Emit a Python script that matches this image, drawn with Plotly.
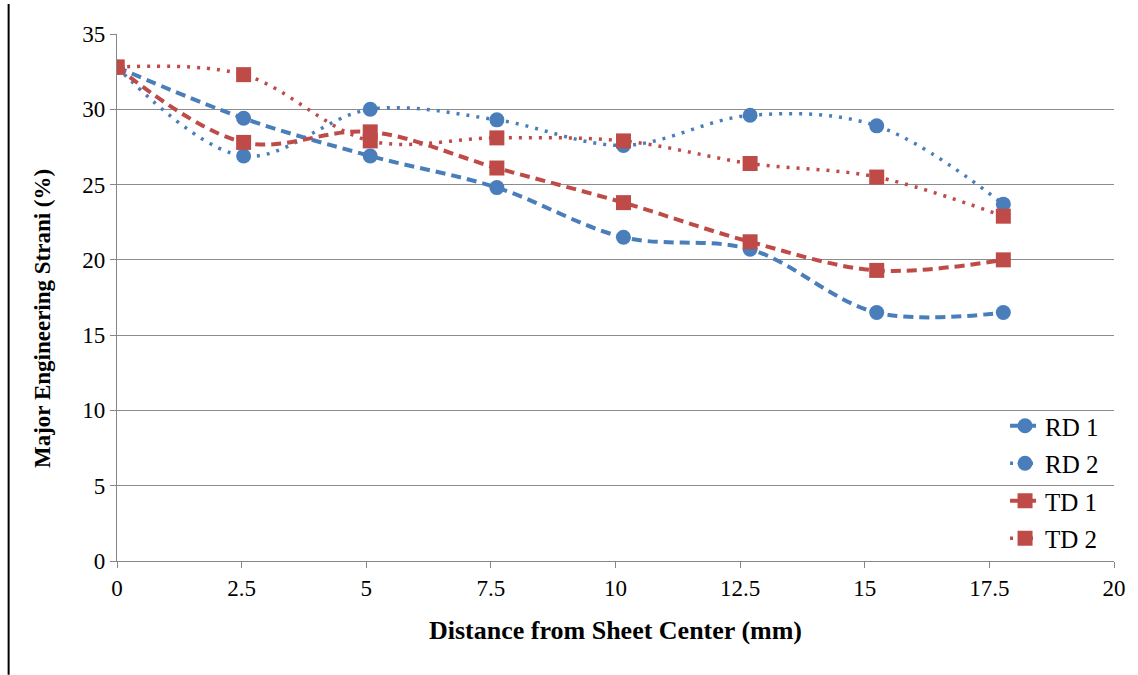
import plotly.graph_objects as go

# Measurement positions along the sheet (mm)
distance_mm = [0, 2.54, 5.08, 7.62, 10.16, 12.7, 15.24, 17.78]

# Major engineering strain (%) per specimen
rd1 = [32.8, 29.4, 26.9, 24.8, 21.5, 20.7, 16.5, 16.5]
rd2 = [32.8, 26.9, 30.0, 29.3, 27.6, 29.6, 28.9, 23.7]
td1 = [32.8, 27.8, 28.5, 26.1, 23.8, 21.2, 19.3, 20.0]
td2 = [32.8, 32.3, 27.9, 28.1, 27.9, 26.4, 25.5, 22.9]

x_ticks = [0, 2.5, 5, 7.5, 10, 12.5, 15, 17.5, 20]
y_ticks = [0, 5, 10, 15, 20, 25, 30, 35]

BLUE = "#4A7EBB"
RED = "#BE4B48"
FONT = "Liberation Serif, Times New Roman, serif"

series = [
    ("RD 1", rd1, BLUE, "circle", "10px,6px", 4),
    ("RD 2", rd2, BLUE, "circle", "3px,7px", 3.5),
    ("TD 1", td1, RED, "square", "10px,6px", 4),
    ("TD 2", td2, RED, "square", "3px,7px", 3.5),
]

fig = go.Figure()
for i, (name, vals, color, symbol, dash, lw) in enumerate(series):
    fig.add_trace(go.Scatter(
        x=distance_mm, y=vals, name=name, mode="lines+markers",
        line=dict(color=color, width=lw, dash=dash, shape="spline", smoothing=1),
        marker=dict(color=color, symbol=symbol, size=15),
        legendgroup=f"g{i}",
    ))

fig.update_layout(
    width=1138, height=675,
    margin=dict(l=117, r=18, t=34, b=114),
    paper_bgcolor="white", plot_bgcolor="white",
    font=dict(family=FONT, size=23, color="#000000"),
    showlegend=True,
    legend=dict(
        x=0.99, xanchor="right", y=0.0, yanchor="bottom",
        bgcolor="rgba(0,0,0,0)", font=dict(family=FONT, size=25),
        traceorder="grouped", tracegroupgap=2,
    ),
    xaxis=dict(
        range=[0, 20], tickvals=x_ticks, ticktext=[f"{v:g}" for v in x_ticks],
        showgrid=False, zeroline=False,
        showline=True, linecolor="#868686", linewidth=1.2,
        ticks="outside", ticklen=6, tickcolor="#868686",
        tickfont=dict(family=FONT, size=23),
        title=dict(text="<b>Distance from Sheet Center (mm)</b>",
                   font=dict(family=FONT, size=26), standoff=21),
    ),
    yaxis=dict(
        range=[0, 35], tickvals=y_ticks,
        showgrid=True, gridcolor="#8C8C8C", gridwidth=1.2,
        zeroline=False,
        showline=True, linecolor="#868686", linewidth=1.2,
        ticks="outside", ticklen=6, tickcolor="#868686",
        tickfont=dict(family=FONT, size=23),
    ),
    annotations=[
        # y-axis title, placed slightly below the plot centre
        dict(text="<b>Major Engineering Strani (%)</b>", textangle=-90,
             xref="paper", yref="paper", x=-0.0748, y=0.46,
             xanchor="center", yanchor="middle", showarrow=False,
             font=dict(family=FONT, size=23)),
    ],
    shapes=[
        # page border on the left edge
        dict(type="line", xref="paper", yref="paper",
             x0=-0.1087, x1=-0.1087, y0=1.057, y1=-0.216,
             line=dict(color="#000000", width=2)),
    ],
)

fig.write_html("out.html")
